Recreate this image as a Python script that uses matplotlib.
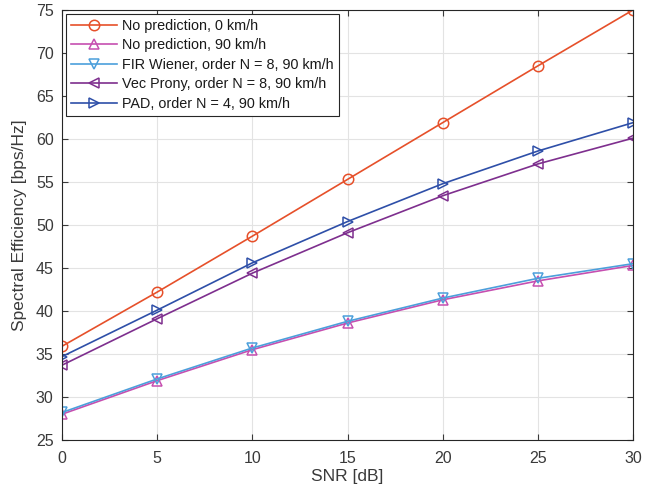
import matplotlib.pyplot as plt
import numpy as np

snr = [0, 5, 10, 15, 20, 25, 30]
no_pred_0 = [35.9, 42.2, 48.7, 55.3, 61.9, 68.5, 75.0]
no_pred_90 = [28.0, 31.9, 35.5, 38.6, 41.3, 43.5, 45.3]
fir_wiener = [28.2, 32.1, 35.7, 38.8, 41.5, 43.8, 45.5]
vec_prony = [33.7, 39.1, 44.4, 49.1, 53.4, 57.1, 60.1]
pad = [34.7, 40.1, 45.6, 50.4, 54.8, 58.6, 61.9]

labels = [
    "No prediction, 0 km/h",
    "No prediction, 90 km/h",
    "FIR Wiener, order N = 8, 90 km/h",
    "Vec Prony, order N = 8, 90 km/h",
    "PAD, order N = 4, 90 km/h",
]

plt.rcParams["font.family"] = ["Liberation Sans", "DejaVu Sans"]
text_color = "#3A3A3A"

fig = plt.figure(figsize=(6.56, 4.93), dpi=100)
ax = fig.add_axes([62 / 656, 53 / 493, 571 / 656, 430 / 493])

series = [no_pred_0, no_pred_90, fir_wiener, vec_prony, pad]
colors = ["#E6502A", "#C64FB0", "#4C9FDB", "#7E2F8E", "#2E4FA8"]
markers = ["o", "^", "v", "<", ">"]
for y, c, m, lab in zip(series, colors, markers, labels):
    ax.plot(snr, y, color=c, marker=m, markersize=7.5, markerfacecolor="none",
            markeredgewidth=1.1, linewidth=1.2, label=lab)

ax.set_xlim(0, 30)
ax.set_ylim(25, 75)
ax.set_xticks(np.arange(0, 31, 5))
ax.set_yticks(np.arange(25, 76, 5))
ax.grid(True, color="#E3E3E3", linewidth=0.8)
ax.set_axisbelow(True)
ax.tick_params(direction="in", top=True, right=True, labelsize=11.5,
               colors=text_color, length=4)
ax.tick_params(axis="x", pad=8)
ax.tick_params(axis="y", pad=6)
for s in ax.spines.values():
    s.set_color("#262626")
    s.set_linewidth(0.8)
ax.set_xlabel("SNR [dB]", fontsize=12.5, color=text_color, labelpad=2)
ax.set_ylabel("Spectral Efficiency [bps/Hz]", fontsize=12.5, color=text_color, labelpad=6)

leg = ax.legend(loc="upper left", fontsize=10.4, fancybox=False, framealpha=1,
                edgecolor="#262626", borderaxespad=0.25, handlelength=3.2,
                labelspacing=0.38, borderpad=0.35, handletextpad=0.35)
leg.get_frame().set_linewidth(0.8)
for t in leg.get_texts():
    t.set_color("#1A1A1A")

fig.savefig("out.png", dpi=100)
